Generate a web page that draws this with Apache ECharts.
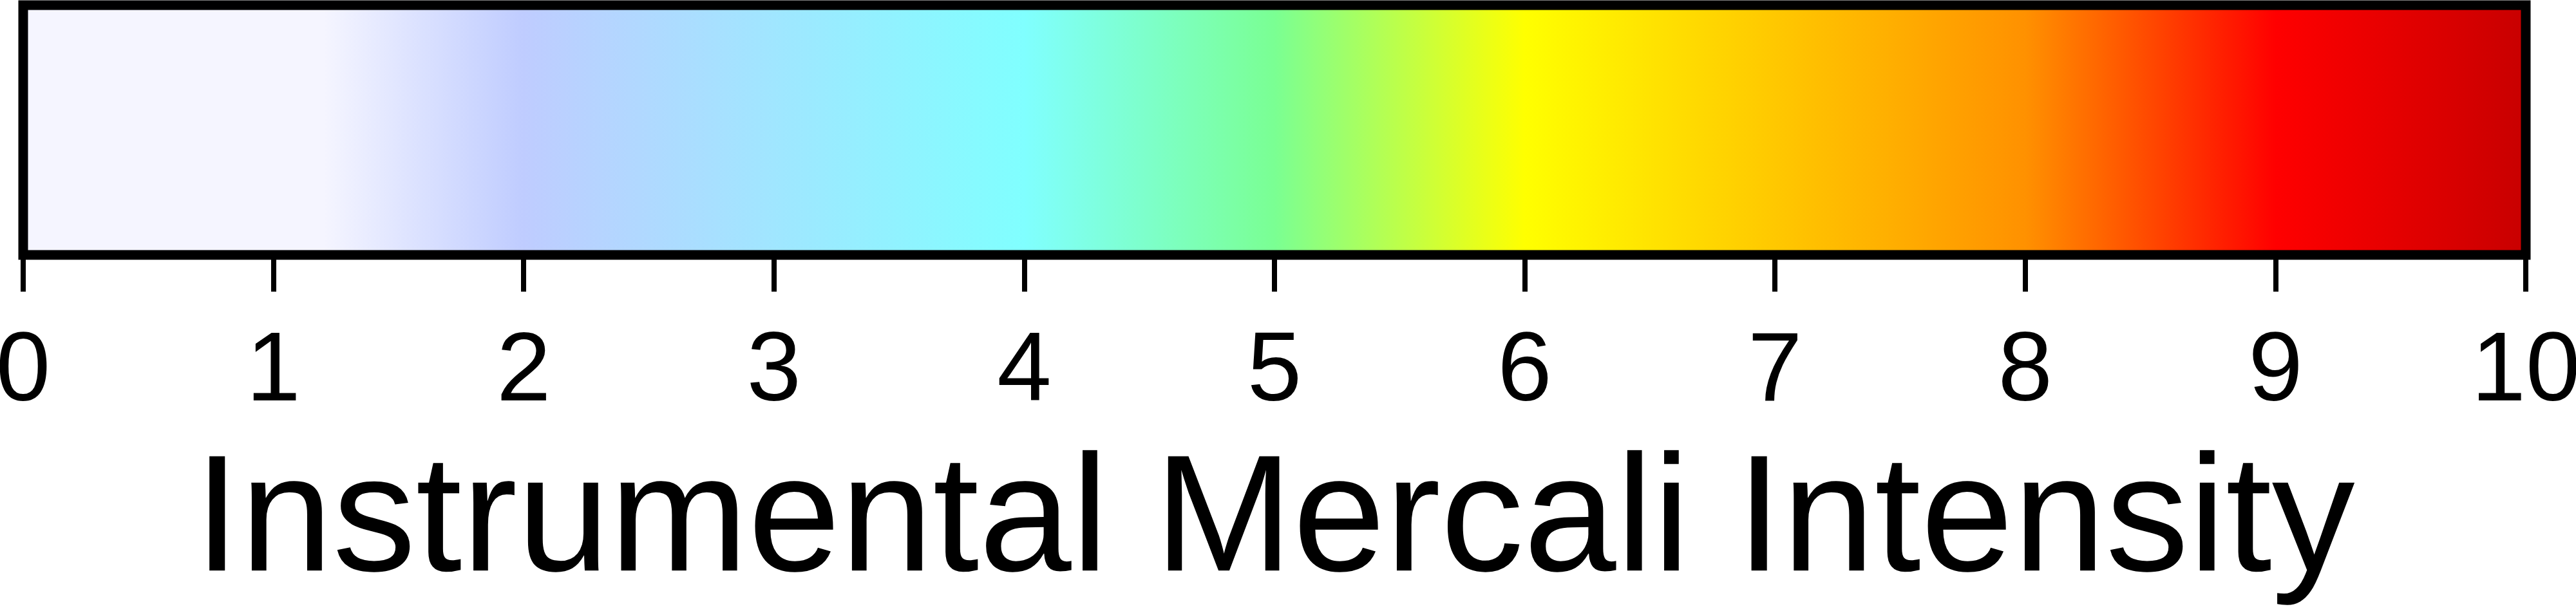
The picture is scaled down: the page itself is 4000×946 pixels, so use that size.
<!DOCTYPE html>
<html>
<head>
<meta charset="utf-8">
<script src="https://cdn.jsdelivr.net/npm/echarts@6/dist/echarts.min.js"></script>
<style>
html,body{margin:0;padding:0;background:#fff;}
#chart{width:4000px;height:946px;}
</style>
</head>
<body>
<div id="chart"></div>
<script>
// Colour scale stops (MMI value -> colour)
const stopValues = [0, 1.2, 2, 3, 4, 5, 6, 7, 8, 9, 10];
const stopColors = ['#F5F5FF', '#F5F5FF', '#BFCCFF', '#A0E6FF', '#80FFFF', '#7AFF93', '#FFFF00', '#FFC800', '#FF9100', '#FF0000', '#C80000'];
const axisMin = 0;
const axisMax = 10;
const tickInterval = 1;
const axisTitle = 'Instrumental Mercali Intensity';

const chart = echarts.init(document.getElementById('chart'), null, {renderer: 'canvas'});
const FONT = '"Liberation Sans", Arial, Helvetica, sans-serif';

chart.setOption({
  animation: false,
  backgroundColor: '#ffffff',
  grid: {left: 36, right: 78, top: 8, bottom: 946 - 396, show: false, containLabel: false, outerBoundsMode: 'none'},
  xAxis: {
    type: 'value',
    min: axisMin,
    max: axisMax,
    interval: tickInterval,
    axisLine: {show: false},
    axisTick: {show: true, length: 57, lineStyle: {color: '#000', width: 8}},
    splitLine: {show: false},
    axisLabel: {
      show: true, color: '#000', fontSize: 152, fontFamily: FONT, margin: 108
    },
    name: axisTitle,
    nameLocation: 'middle',
    nameGap: 290,
    nameTextStyle: {color: '#000', fontSize: 258, fontFamily: FONT}
  },
  yAxis: {type: 'value', min: 0, max: 1, show: false},
  series: [{
    type: 'custom',
    clip: false,
    data: [[axisMin, axisMax]],
    renderItem: function (params, api) {
      const p0 = api.coord([api.value(0), 1]);
      const p1 = api.coord([api.value(1), 0]);
      const span = axisMax - axisMin;
      const colorStops = stopValues.map(function (v, i) {
        return {offset: (v - axisMin) / span, color: stopColors[i]};
      });
      return {
        type: 'rect',
        shape: {x: p0[0], y: p0[1], width: p1[0] - p0[0], height: p1[1] - p0[1]},
        style: {
          fill: {type: 'linear', x: p0[0], y: 0, x2: p1[0], y2: 0, colorStops: colorStops, global: true},
          stroke: '#000',
          lineWidth: 15
        }
      };
    }
  }]
});
</script>
</body>
</html>
